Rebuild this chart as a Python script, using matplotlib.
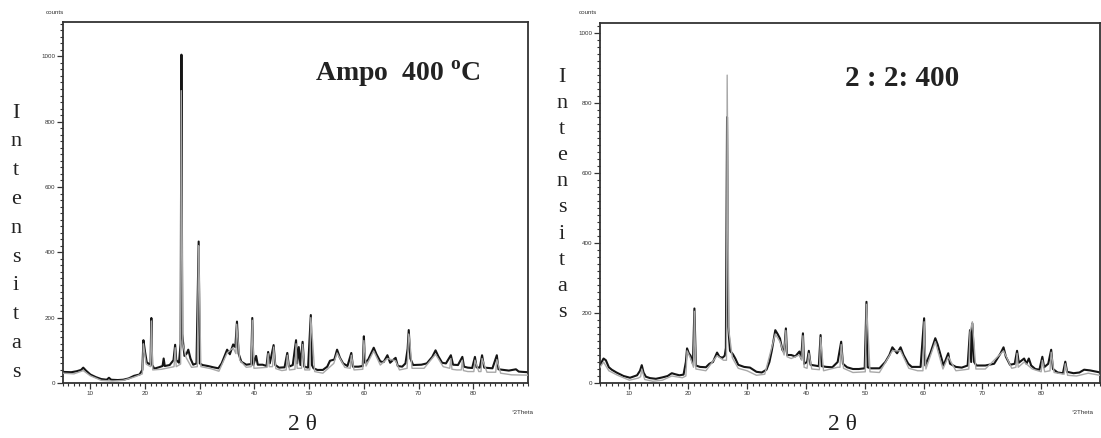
"""XRD patterns: Ampo 400 C and 2:2:400 samples, two scans each (black / grey)."""

import matplotlib
matplotlib.use("Agg")
import matplotlib.pyplot as plt
from matplotlib.ticker import MultipleLocator

W, H = 1101, 438

# ---- Ampo 400 C -------------------------------------------------------------
ampo_theta = [
    5.0, 6.5, 7.5, 8.3, 8.7, 9.2, 10.0, 11.0, 12.0, 13.0, 13.4, 13.8, 15.0, 16.0,
    17.0, 18.0, 19.0, 19.5, 19.7, 20.0, 20.3, 20.7, 21.0, 21.15, 21.3, 21.7, 22.5,
    23.2, 23.4, 23.6, 24.5, 25.2, 25.5, 25.7, 26.2, 26.5, 26.65, 26.8, 27.2, 27.6,
    27.9, 28.3, 28.8, 29.4, 29.8, 30.0, 30.5, 31.5, 32.5, 33.4, 34.0, 34.6, 35.0,
    35.5, 36.1, 36.5, 36.8, 37.1, 37.6, 38.5, 39.4, 39.6, 39.8, 40.3, 40.6, 41.5,
    42.2, 42.5, 42.8, 43.5, 43.8, 44.5, 45.5, 46.0, 46.3, 47.0, 47.6, 47.8, 48.1,
    48.4, 48.8, 49.1, 49.8, 50.3, 50.5, 50.8, 51.5, 52.5, 53.3, 53.8, 54.6, 55.1,
    55.6, 56.2, 57.0, 57.7, 58.0, 59.0, 59.8, 60.0, 60.2, 60.8, 61.8, 62.3, 63.0,
    63.6, 64.3, 64.8, 65.3, 65.8, 66.2, 67.0, 67.6, 68.0, 68.2, 68.5, 69.0, 70.5,
    71.5, 72.5, 73.1, 73.6, 74.3, 75.0, 75.9, 76.3, 77.2, 78.0, 78.3, 79.0, 79.8,
    80.3, 80.6, 81.2, 81.6, 82.0, 83.5, 84.3, 84.6, 85.5, 86.5, 87.8, 88.3, 89.0,
    90.0,
]
ampo_counts = [
    34, 33, 36, 40, 47, 38, 26, 18, 12, 10, 16, 10, 9, 10,
    14, 22, 26, 40, 131, 95, 64, 58, 60, 199, 55, 44, 48,
    52, 75, 52, 55, 70, 117, 70, 62, 120, 1005, 150, 83, 90,
    102, 75, 56, 60, 433, 60, 55, 52, 48, 45, 60, 85, 102,
    88, 118, 110, 188, 90, 65, 56, 58, 199, 55, 83, 56, 56,
    52, 95, 60, 116, 55, 47, 48, 92, 50, 55, 131, 60, 110,
    55, 126, 50, 47, 208, 55, 45, 40, 40, 50, 68, 72, 102,
    78, 60, 52, 92, 50, 50, 52, 143, 62, 72, 108, 88, 66,
    64, 85, 62, 70, 77, 52, 50, 60, 105, 162, 75, 55, 56,
    60, 80, 100, 82, 62, 60, 85, 56, 55, 80, 50, 47, 46,
    80, 48, 47, 85, 47, 45, 85, 42, 40, 38, 42, 35, 34,
    33,
]
ampo_theta_2 = [
    5.0, 7.0, 8.7, 10.0, 12.0, 14.0, 16.0, 18.0, 19.5, 19.7, 20.2, 21.0, 21.15,
    21.4, 23.0, 25.3, 25.5, 25.7, 26.2, 26.5, 26.62, 26.9, 27.5, 28.5, 29.55, 29.7,
    29.8, 30.2, 32.0, 33.5, 35.0, 36.1, 36.6, 36.75, 37.3, 38.5, 39.4, 39.6, 39.9,
    42.3, 42.5, 42.7, 43.3, 43.5, 43.9, 45.0, 45.8, 46.0, 46.4, 47.4, 47.6, 47.8,
    48.6, 48.8, 49.2, 50.1, 50.3, 50.7, 51.0, 52.5, 54.5, 55.1, 56.5, 57.5, 57.7,
    58.2, 59.8, 60.0, 60.4, 61.8, 63.0, 64.3, 65.8, 66.5, 67.9, 68.2, 68.4, 68.8,
    71.0, 73.1, 74.5, 75.7, 75.9, 76.1, 77.0, 77.8, 78.0, 78.2, 79.0, 80.1, 80.3,
    81.0, 81.4, 81.6, 82.5, 84.1, 84.3, 85.0, 87.0, 90.0,
]
ampo_counts_2 = [
    30, 28, 38, 22, 8, 6, 8, 18, 28, 120, 58, 50, 190,
    40, 42, 50, 108, 50, 55, 58, 895, 120, 78, 48, 50, 300,
    420, 50, 44, 36, 92, 108, 90, 180, 70, 48, 50, 192, 45,
    48, 90, 50, 50, 110, 44, 38, 40, 85, 40, 42, 120, 45,
    45, 118, 40, 40, 200, 110, 35, 30, 60, 92, 48, 45, 85,
    40, 42, 130, 52, 98, 55, 75, 68, 40, 45, 150, 126, 45,
    45, 88, 50, 45, 75, 42, 40, 40, 70, 38, 35, 35, 70,
    35, 35, 75, 33, 33, 72, 30, 25, 24,
]

# ---- 2 : 2 : 400 ------------------------------------------------------------
mix_theta = [
    5.0, 5.6, 6.0, 6.5, 7.0, 7.8, 9.0, 10.1, 11.3, 11.8, 12.1, 12.4, 12.8, 13.5,
    14.5, 15.6, 16.5, 17.2, 17.8, 18.5, 19.2, 19.6, 19.8, 20.1, 20.4, 20.8, 21.05,
    21.3, 22.0, 23.0, 23.6, 24.2, 24.9, 25.3, 25.8, 26.2, 26.4, 26.6, 26.8, 27.1,
    27.6, 28.0, 28.5, 29.5, 30.5, 31.6, 32.5, 33.3, 33.8, 34.2, 34.8, 35.2, 35.6,
    36.0, 36.3, 36.6, 36.8, 37.5, 38.2, 38.9, 39.2, 39.5, 39.7, 40.2, 40.5, 40.8,
    41.5, 42.2, 42.5, 42.7, 43.5, 44.5, 45.4, 46.0, 46.3, 47.0, 48.0, 49.0, 50.0,
    50.3, 50.5, 51.0, 52.5, 53.5, 54.2, 54.7, 55.5, 56.1, 56.6, 57.4, 58.0, 59.5,
    60.1, 60.3, 61.2, 62.0, 62.4, 62.9, 63.4, 64.2, 64.5, 65.5, 66.5, 67.5, 67.9,
    68.1, 68.3, 68.6, 69.0, 70.5, 72.0, 73.1, 73.6, 74.0, 74.7, 75.5, 75.9, 76.2,
    77.1, 77.5, 77.9, 78.3, 79.0, 79.7, 80.2, 80.5, 81.2, 81.7, 82.0, 82.8, 83.7,
    84.1, 84.4, 85.5, 86.5, 87.3, 88.3, 89.5, 90.0,
]
mix_counts = [
    51, 70, 65, 45, 38, 30, 20, 15, 22, 35, 51, 30, 18, 14,
    12, 16, 20, 28, 25, 22, 24, 60, 99, 85, 78, 55, 213,
    50, 46, 45, 55, 60, 87, 75, 72, 78, 100, 760, 161, 92,
    82, 70, 52, 46, 44, 32, 30, 38, 60, 92, 151, 140, 127,
    95, 88, 156, 80, 80, 76, 90, 70, 142, 55, 60, 92, 52,
    50, 48, 137, 48, 46, 45, 60, 118, 55, 45, 40, 40, 42,
    232, 45, 42, 42, 60, 80, 102, 85, 102, 80, 55, 46, 46,
    185, 50, 87, 128, 110, 80, 50, 85, 55, 46, 44, 50, 151,
    60, 170, 60, 50, 50, 55, 85, 102, 75, 52, 55, 92, 58,
    70, 55, 70, 50, 40, 38, 75, 45, 55, 95, 40, 30, 28,
    61, 32, 28, 30, 38, 36, 32, 30,
]
mix_theta_2 = [
    5.0, 5.6, 6.5, 8.0, 10.0, 11.5, 11.9, 12.1, 12.6, 14.0, 15.6, 17.2, 19.0,
    19.6, 19.8, 20.4, 20.9, 21.05, 21.3, 23.0, 24.9, 26.0, 26.5, 26.62, 26.9, 27.5,
    28.5, 30.0, 31.6, 33.0, 34.8, 35.6, 36.3, 36.6, 36.8, 37.5, 38.9, 39.3, 39.5,
    39.7, 40.2, 40.5, 41.0, 42.3, 42.5, 43.0, 45.4, 45.8, 46.0, 46.4, 48.0, 50.1,
    50.3, 50.6, 50.9, 52.5, 54.7, 56.1, 57.5, 59.0, 59.9, 60.1, 60.4, 62.0, 63.3,
    64.2, 65.5, 67.0, 67.7, 67.9, 68.3, 68.5, 68.9, 70.5, 73.6, 75.0, 75.7, 75.9,
    76.1, 77.1, 78.5, 80.0, 80.2, 80.6, 81.5, 81.7, 82.2, 83.9, 84.1, 84.5, 86.0,
    88.0, 90.0,
]
mix_counts_2 = [
    45, 60, 35, 22, 8, 14, 18, 40, 10, 5, 8, 20, 15,
    20, 92, 70, 45, 205, 40, 35, 78, 65, 65, 880, 150, 72,
    42, 35, 22, 25, 140, 118, 80, 150, 75, 70, 80, 65, 135,
    45, 42, 85, 40, 38, 130, 35, 45, 45, 110, 42, 30, 32,
    225, 134, 32, 30, 92, 92, 42, 35, 35, 175, 40, 118, 40,
    75, 35, 38, 40, 145, 175, 130, 40, 40, 92, 42, 45, 85,
    45, 60, 40, 32, 65, 32, 35, 88, 30, 25, 55, 22, 20,
    28, 22,
]

x_ticks = [10, 20, 30, 40, 50, 60, 70, 80]
y_ticks = [0, 200, 400, 600, 800, 1000]

plt.rcParams["font.family"] = ["Liberation Serif", "DejaVu Serif"]
plt.rcParams["mathtext.fontset"] = "custom"
plt.rcParams["mathtext.rm"] = "Liberation Serif"
plt.rcParams["mathtext.bf"] = "Liberation Serif:bold"


def fbox(x0, y0, x1, y1):
    return [x0 / W, 1 - y1 / H, (x1 - x0) / W, (y1 - y0) / H]


def ftext(fig, x, y, s, **kw):
    fig.text(x / W, 1 - y / H, s, **kw)


def draw_panel(fig, box, theta, counts, theta2, counts2, ylim, xlim):
    ax = fig.add_axes(fbox(*box))
    ax.plot(theta, counts, color="#151515", lw=1.5, zorder=2)
    ax.plot(theta2, counts2, color="#a8a8a8", lw=1.0, zorder=3)
    ax.set_xlim(*xlim)
    ax.set_ylim(*ylim)
    ax.set_xticks(x_ticks)
    ax.set_yticks(y_ticks)
    ax.xaxis.set_minor_locator(MultipleLocator(1))
    ax.yaxis.set_minor_locator(MultipleLocator(20))
    ax.tick_params(which="major", length=4, width=0.9, labelsize=4.5,
                   colors="#333333", pad=1.5, labelfontfamily="Liberation Sans")
    ax.tick_params(which="minor", length=2.5, width=0.8, colors="#333333")
    for sp in ax.spines.values():
        sp.set_linewidth(1.3)
        sp.set_color("#333333")
    return ax


def main():
    fig = plt.figure(figsize=(W / 100, H / 100), dpi=100)

    draw_panel(fig, (63, 22, 528, 383), ampo_theta, ampo_counts,
               ampo_theta_2, ampo_counts_2, (0, 1105), (5, 90))
    draw_panel(fig, (600, 23, 1100, 383), mix_theta, mix_counts,
               mix_theta_2, mix_counts_2, (0, 1029), (5, 90))

    small = dict(fontsize=4.5, family="Liberation Sans", color="#333333",
                 ha="center", va="center")
    ftext(fig, 55, 12, "counts", **small)
    ftext(fig, 523, 412, "°2Theta", **small)
    ftext(fig, 588, 13, "counts", **small)
    ftext(fig, 1083, 412, "°2Theta", **small)

    ftext(fig, 398, 74, r"Ampo  400 $^{\mathbf{o}}$C", fontsize=20,
          fontweight="bold", ha="center", va="center", color="#222222")
    ftext(fig, 902, 79, "2 : 2: 400", fontsize=21, fontweight="bold",
          ha="center", va="center", color="#222222")

    word = "Intensitas"
    for i, ch in enumerate(word):
        ftext(fig, 16, 113 + i * 28.8, ch, fontsize=16, ha="center",
              va="center", color="#222222")
        ftext(fig, 562, 77 + i * 26.2, ch, fontsize=16, ha="center",
              va="center", color="#222222")

    ftext(fig, 302, 424, "2 θ", fontsize=17, ha="center", va="center",
          color="#222222")
    ftext(fig, 843, 424, "2 θ", fontsize=17, ha="center", va="center",
          color="#222222")

    fig.savefig("out.png", dpi=100)
    plt.close(fig)


if __name__ == "__main__":
    main()
